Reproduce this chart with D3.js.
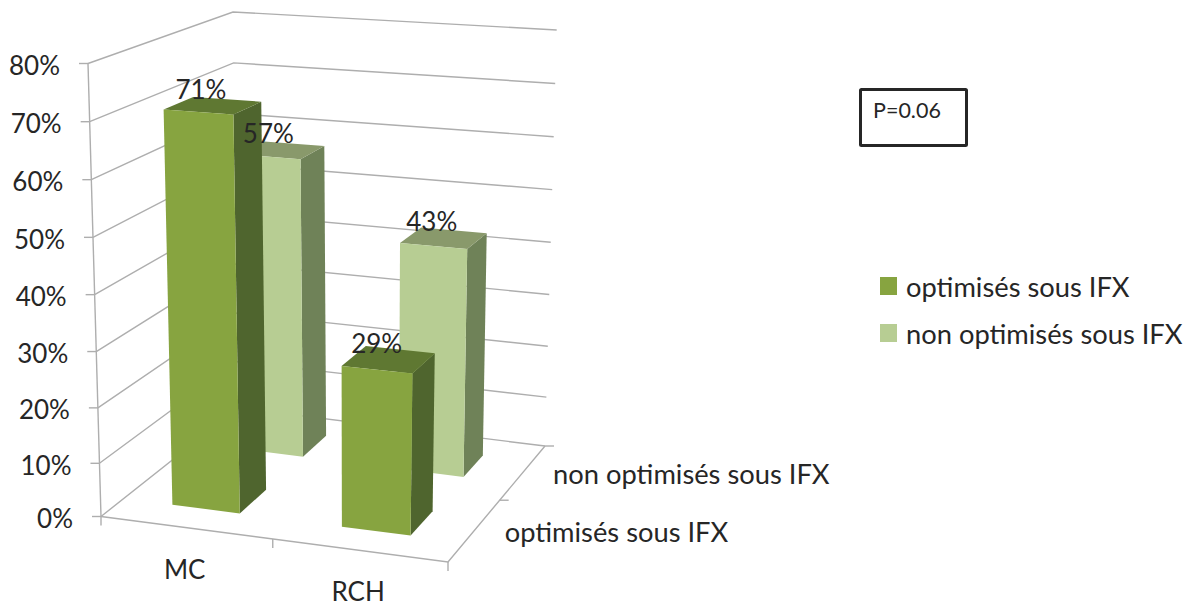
<!DOCTYPE html>
<html>
<head>
<meta charset="utf-8">
<script src="https://cdnjs.cloudflare.com/ajax/libs/d3/7.8.5/d3.min.js"></script>
<style>
  body { margin: 0; background: #fff; }
  text { font-family: Lato, "Open Sans", sans-serif; fill: #262626; }
</style>
</head>
<body>
<svg id="chart"></svg>
<script>
const categories = ['MC', 'RCH'];
const seriesNames = ['optimisés sous IFX', 'non optimisés sous IFX'];
const optimises = [71, 29];
const nonOptimises = [57, 43];
const valueTicks = [0, 10, 20, 30, 40, 50, 60, 70, 80];
const pValue = 'P=0.06';

const width = 1194;
const height = 608;

const svg = d3.select('#chart').attr('width', width).attr('height', height);

const frontColors = ['#87a440', '#b7cd93'];
const sideColors = ['#4f652e', '#6f8258'];
const topColors = ['#5f7832', '#89996b'];
const gridColor = '#aeaeae';

// corners of the 3d box on screen, front-left, front-right, back-right, back-left
const floorCorners = [[101, 516.5], [448, 562], [545, 446], [238, 408]];
const ceilCorners = [[88, 63.5], [458, 88], [556.7, 30], [233, 12]];

// maps the unit square to a quad, keeps the perspective right
function quadMap(q) {
  const [[x0, y0], [x1, y1], [x2, y2], [x3, y3]] = q;
  const dx1 = x1 - x2, dx2 = x3 - x2, dx3 = x0 - x1 + x2 - x3;
  const dy1 = y1 - y2, dy2 = y3 - y2, dy3 = y0 - y1 + y2 - y3;
  const den = dx1 * dy2 - dx2 * dy1;
  const g = (dx3 * dy2 - dx2 * dy3) / den;
  const h = (dx1 * dy3 - dx3 * dy1) / den;
  const a = x1 - x0 + g * x1, b = x3 - x0 + h * x3;
  const d = y1 - y0 + g * y1, e = y3 - y0 + h * y3;
  return (u, w) => {
    const k = g * u + h * w + 1;
    return [(a * u + b * w + x0) / k, (d * u + e * w + y0) / k];
  };
}

const floorMap = quadMap(floorCorners);
const ceilMap = quadMap(ceilCorners);

const xScale = d3.scaleBand().domain(categories).range([-0.005, 0.995])
  .paddingInner(0.6).paddingOuter(0.3);
const zScale = d3.scaleBand().domain(seriesNames).range([0, 1])
  .paddingInner(0.6).paddingOuter(0.3);
const yScale = d3.scalePow().exponent(1.03).domain([0, 80]).range([0, 1]);

// u across, w depth, v value
function project(u, w, v) {
  return d3.interpolateArray(floorMap(u, w), ceilMap(u, w))(yScale(v));
}

const line = d3.line();
const maxValue = d3.max(valueTicks);

// walls
svg.append('g')
  .selectAll('path')
  .data(valueTicks)
  .join('path')
  .attr('d', (v) => line([project(0, 0, v), project(0, 1, v), project(1, 1, v)]))
  .attr('fill', 'none')
  .attr('stroke', gridColor)
  .attr('stroke-width', 1.4);

const axisPaths = [
  [project(0, 0, 0), project(0, 0, maxValue)],
  [project(0, 0, 0), project(1, 0, 0), project(1, 1, 0)]
];
svg.append('g')
  .selectAll('path')
  .data(axisPaths)
  .join('path')
  .attr('d', line)
  .attr('fill', 'none')
  .attr('stroke', gridColor)
  .attr('stroke-width', 1.4);

// value axis
const valueAxis = svg.append('g');
valueAxis.selectAll('line')
  .data(valueTicks)
  .join('line')
  .attr('x1', (v) => project(0, 0, v)[0] - 9)
  .attr('x2', (v) => project(0, 0, v)[0])
  .attr('y1', (v) => project(0, 0, v)[1])
  .attr('y2', (v) => project(0, 0, v)[1])
  .attr('stroke', gridColor)
  .attr('stroke-width', 1.4);
valueAxis.selectAll('text')
  .data(valueTicks)
  .join('text')
  .attr('x', (v) => project(0, 0, v)[0] - 28)
  .attr('y', (v) => project(0, 0, v)[1] + 2.5)
  .attr('dy', '0.35em')
  .attr('text-anchor', 'end')
  .attr('font-size', 26)
  .text((v) => `${v}%`);

// ticks on the floor edges
svg.append('g')
  .selectAll('line')
  .data([0, 0.5, 1])
  .join('line')
  .attr('x1', (u) => project(u, 0, 0)[0])
  .attr('x2', (u) => project(u, 0, 0)[0])
  .attr('y1', (u) => project(u, 0, 0)[1])
  .attr('y2', (u) => project(u, 0, 0)[1] + 9)
  .attr('stroke', gridColor)
  .attr('stroke-width', 1.4);
svg.append('g')
  .selectAll('line')
  .data([0.5, 1])
  .join('line')
  .attr('x1', (w) => project(1, w, 0)[0])
  .attr('x2', (w) => project(1, w, 0)[0] + 9)
  .attr('y1', (w) => project(1, w, 0)[1])
  .attr('y2', (w) => project(1, w, 0)[1])
  .attr('stroke', gridColor)
  .attr('stroke-width', 1.4);

// bars, back row first so the front row covers it
const rows = [nonOptimises, optimises];
const bars = [];
rows.forEach((values) => {
  const s = values === optimises ? 0 : 1;
  values.forEach((value, i) => {
    bars.push({ value, s, category: categories[i], series: seriesNames[s] });
  });
});

const barGroups = svg.append('g')
  .selectAll('g')
  .data(bars)
  .join('g');

function barCorners(d) {
  const u0 = xScale(d.category), u1 = u0 + xScale.bandwidth();
  const w0 = zScale(d.series), w1 = w0 + zScale.bandwidth();
  return { u0, u1, w0, w1 };
}

barGroups.append('path')
  .attr('d', (d) => {
    const c = barCorners(d);
    return line([project(c.u1, c.w0, 0), project(c.u1, c.w1, 0), project(c.u1, c.w1, d.value), project(c.u1, c.w0, d.value)]) + 'Z';
  })
  .attr('fill', (d) => sideColors[d.s]);

barGroups.append('path')
  .attr('d', (d) => {
    const c = barCorners(d);
    return line([project(c.u0, c.w0, d.value), project(c.u1, c.w0, d.value), project(c.u1, c.w1, d.value), project(c.u0, c.w1, d.value)]) + 'Z';
  })
  .attr('fill', (d) => topColors[d.s]);

barGroups.append('path')
  .attr('d', (d) => {
    const c = barCorners(d);
    return line([project(c.u0, c.w0, 0), project(c.u1, c.w0, 0), project(c.u1, c.w0, d.value), project(c.u0, c.w0, d.value)]) + 'Z';
  })
  .attr('fill', (d) => frontColors[d.s]);

// value labels sit on top of everything
svg.append('g')
  .selectAll('text')
  .data(bars)
  .join('text')
  .attr('x', (d) => {
    const c = barCorners(d);
    return project((c.u0 + c.u1) / 2, (c.w0 + c.w1) / 2, d.value)[0] - 12;
  })
  .attr('y', (d) => {
    const c = barCorners(d);
    return project((c.u0 + c.u1) / 2, (c.w0 + c.w1) / 2, d.value)[1] - 16;
  })
  .attr('dy', '0.35em')
  .attr('text-anchor', 'middle')
  .attr('font-size', 26)
  .text((d) => `${d.value}%`);

// category labels
svg.append('g')
  .selectAll('text')
  .data(categories)
  .join('text')
  .attr('x', (d) => project(xScale(d) + xScale.bandwidth() / 2, 0, 0)[0])
  .attr('y', (d) => project(xScale(d) + xScale.bandwidth() / 2, 0, 0)[1] + 42)
  .attr('dy', '0.35em')
  .attr('text-anchor', 'middle')
  .attr('font-size', 26)
  .text((d) => d);

// series labels along the depth edge
svg.append('g')
  .selectAll('text')
  .data(seriesNames)
  .join('text')
  .attr('x', (d) => project(1, zScale(d) + zScale.bandwidth() / 2, 0)[0] + 30)
  .attr('y', (d) => project(1, zScale(d) + zScale.bandwidth() / 2, 0)[1] + 2)
  .attr('dy', '0.35em')
  .attr('font-size', 27.3)
  .text((d) => d);

// legend
const legend = svg.append('g').attr('transform', 'translate(880, 277)');
const legendRows = legend.selectAll('g')
  .data(seriesNames)
  .join('g')
  .attr('transform', (d, i) => `translate(0, ${i * 47})`);
legendRows.append('rect')
  .attr('width', 17)
  .attr('height', 18)
  .attr('fill', (d, i) => frontColors[i]);
legendRows.append('text')
  .attr('x', 26)
  .attr('y', 10)
  .attr('dy', '0.35em')
  .attr('font-size', 27.3)
  .text((d) => d);

// p value box
svg.append('rect')
  .attr('x', 860.5)
  .attr('y', 89.5)
  .attr('width', 106)
  .attr('height', 56)
  .attr('rx', 1)
  .attr('fill', '#fff')
  .attr('stroke', '#262626')
  .attr('stroke-width', 3);
svg.append('text')
  .attr('x', 873)
  .attr('y', 110)
  .attr('dy', '0.35em')
  .attr('font-size', 21.5)
  .text(pValue);
</script>
</body>
</html>
